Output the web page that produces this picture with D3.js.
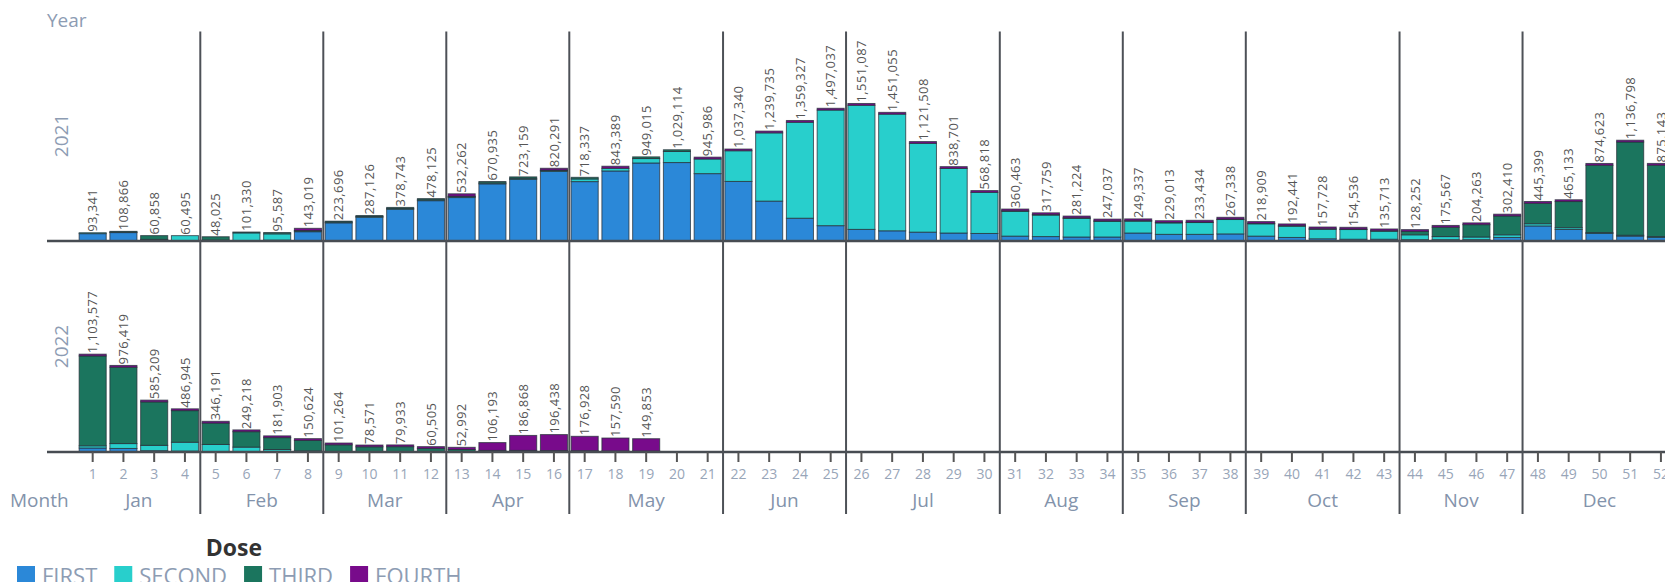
<!DOCTYPE html>
<meta charset="utf-8">
<script src="https://d3js.org/d3.v7.min.js"></script>
<style>
  body { margin: 0; background: #fff; }
  text { font-family: "Open Sans", sans-serif; }
</style>
<body>
<div id="chart"></div>
<script>

// weeks and months
var weeks = d3.range(1, 53)
var monthNames = ["Jan", "Feb", "Mar", "Apr", "May", "Jun", "Jul", "Aug", "Sep", "Oct", "Nov", "Dec"]
var monthLastWeek = [4, 8, 12, 16, 21, 25, 30, 34, 38, 43, 47, 52]
var years = ["2021", "2022"]
var doseKeys = ["FIRST", "SECOND", "THIRD", "FOURTH"]
var doseColors = ["#2b88d8", "#28cfcc", "#1b755e", "#780b8b"]

// 2021, weeks 1-52
var first2021 = [83000, 95000, 10000, 5000, 5000, 5000, 10000, 105000, 205000, 268000, 358000, 455000, 490000,
  645000, 695000, 785000, 670000, 790000, 880000, 885000, 760000, 672000, 450000, 257000, 173000, 131000,
  115000, 100000, 90000, 85000, 55000, 50000, 45000, 45000, 90000, 75000, 75000, 80000, 55000, 40000,
  25000, 20000, 20000, 15000, 15000, 15000, 40000, 170000, 130000, 85000, 55000, 40000]
var second2021 = [10341, 6000, 8000, 55495, 5000, 86330, 70587, 8000, 8000, 8000, 8000, 10000, 10000,
  10000, 12000, 10000, 30000, 30000, 50000, 125000, 165000, 346000, 769735, 1082327, 1304037, 1400087,
  1316055, 1001508, 728701, 463818, 280463, 242759, 211224, 177037, 134337, 129013, 133434, 162338, 138909, 127441,
  107728, 109536, 90713, 55000, 35000, 30000, 30000, 25000, 20000, 10000, 10000, 10000]
var third2021 = [0, 7866, 42858, 0, 38025, 10000, 15000, 5000, 10696, 11126, 12743, 13125, 5000,
  15935, 16159, 5000, 18337, 0, 19015, 19114, 0, 0, 0, 0, 0, 0,
  0, 0, 0, 0, 5000, 5000, 5000, 5000, 5000, 5000, 5000, 5000, 5000, 5000,
  5000, 5000, 5000, 38252, 105567, 139263, 212410, 230399, 295133, 759623, 1051798, 805143]
var fourth2021 = [0, 0, 0, 0, 0, 0, 0, 25019, 0, 0, 0, 0, 27262,
  0, 0, 20291, 0, 23389, 0, 0, 20986, 19340, 20000, 20000, 20000, 20000,
  20000, 20000, 20000, 20000, 20000, 20000, 20000, 20000, 20000, 20000, 20000, 20000, 20000, 20000,
  20000, 20000, 20000, 20000, 20000, 20000, 20000, 20000, 20000, 20000, 20000, 20000]

// 2022, weeks 1-19
var first2022 = [45000, 40000, 15000, 10000, 5000, 5000, 3000, 2000, 1000, 1000, 1000, 1000, 1000, 1000, 1000, 1000, 1000, 1000, 1000]
var second2022 = [25000, 55000, 60000, 100000, 80000, 50000, 25000, 10000, 5000, 3000, 3000, 2000, 2000, 2000, 2000, 2000, 2000, 1000, 1000]
var third2022 = [1013577, 861419, 490209, 356945, 241191, 174218, 133903, 118624, 75264, 54571, 55933, 37505, 25000, 15000, 15000, 13000, 12000, 10000, 9000]
var fourth2022 = [20000, 20000, 20000, 20000, 20000, 20000, 20000, 20000, 20000, 20000, 20000, 20000, 24992, 88193, 168868, 180438, 161928, 145590, 138853]

var width = 1665, height = 582
var panelTop = [30, 241]
var panelH = 211

function rows(f, s, t, o) {
  return f.map(function(d, i) {
    return {week: weeks[i], FIRST: f[i], SECOND: s[i], THIRD: t[i], FOURTH: o[i]}
  })
}
var yearData = [rows(first2021, second2021, third2021, fourth2021), rows(first2022, second2022, third2022, fourth2022)]

var svg = d3.select("#chart").append("svg")
  .attr("width", width).attr("height", height)

var x = d3.scaleBand()
  .domain(weeks)
  .range([77.3, 77.3 + 52 * 30.75])
  .paddingInner(0.12)
  .paddingOuter(0.06)

var y = d3.scaleLinear().domain([0, 2.38e6]).range([0, panelH])

var color = d3.scaleOrdinal().domain(doseKeys).range(doseColors)
var fmt = d3.format(",")
var stack = d3.stack().keys(doseKeys)

function cx(w) { return x(w) + x.bandwidth() / 2 }

yearData.forEach(function(data, i) {
  var base = panelTop[i] + panelH
  var g = svg.append("g")

  var series = stack(data)
  g.selectAll("g.series")
    .data(series)
    .enter().append("g")
      .attr("fill", function(d) { return color(d.key) })
    .selectAll("rect")
    .data(function(d) { return d.filter(function(v) { return v[1] > v[0] }) })
    .enter().append("rect")
      .attr("x", function(d) { return x(d.data.week) })
      .attr("width", x.bandwidth())
      .attr("y", function(d) { return base - y(d[1]) })
      .attr("height", function(d) { return y(d[1]) - y(d[0]) })
      .attr("stroke", "#26303a")
      .attr("stroke-opacity", 0.75)
      .attr("stroke-width", 1)

  // total labels
  g.selectAll("text.total")
    .data(data)
    .enter().append("text")
      .attr("class", "total")
      .attr("transform", function(d) {
        var tot = d.FIRST + d.SECOND + d.THIRD + d.FOURTH
        return "translate(" + cx(d.week) + "," + (base - y(tot) - 1) + ") rotate(-90)"
      })
      .attr("dy", "0.36em")
      .attr("font-size", "13px")
      .attr("letter-spacing", "0.4px")
      .attr("fill", "#555")
      .text(function(d) { return fmt(d.FIRST + d.SECOND + d.THIRD + d.FOURTH) })

  // baseline
  svg.append("line")
    .attr("x1", 47).attr("x2", width)
    .attr("y1", base).attr("y2", base)
    .attr("stroke", "#474c52").attr("stroke-width", 2.5)

  // year label
  svg.append("text")
    .attr("transform", "translate(68," + (panelTop[i] + panelH / 2) + ") rotate(-90)")
    .attr("text-anchor", "middle")
    .attr("font-size", "19px")
    .attr("fill", "#8d9cb3")
    .text(years[i])
})

// week axis under 2022
var axis = svg.append("g")
  .attr("transform", "translate(0," + (panelTop[1] + panelH) + ")")
  .call(d3.axisBottom(x).tickSize(10).tickPadding(7))
axis.select(".domain").remove()
axis.selectAll(".tick line").attr("stroke", "#555").attr("stroke-width", 2)
axis.selectAll(".tick text")
  .attr("font-family", "Open Sans")
  .attr("font-size", "14px")
  .attr("fill", "#98a5b8")

// month separators and labels
var firstWeek = 1
monthNames.forEach(function(m, i) {
  var last = monthLastWeek[i]
  svg.append("text")
    .attr("x", (cx(firstWeek) + cx(last)) / 2)
    .attr("y", 507)
    .attr("text-anchor", "middle")
    .attr("font-size", "19px")
    .attr("fill", "#8393ab")
    .text(m)
  if (i < monthNames.length - 1) {
    var sx = (cx(last) + cx(last + 1)) / 2
    svg.append("line")
      .attr("x1", sx).attr("x2", sx)
      .attr("y1", 31.5).attr("y2", 514)
      .attr("stroke", "#4d5157").attr("stroke-width", 2)
  }
  firstWeek = last + 1
})

svg.append("text")
  .attr("x", 10).attr("y", 507)
  .attr("font-size", "19px")
  .attr("fill", "#8393ab")
  .text("Month")

svg.append("text")
  .attr("x", 47).attr("y", 27)
  .attr("font-size", "19px")
  .attr("fill", "#8d9cb3")
  .text("Year")

// legend
svg.append("text")
  .attr("x", 234).attr("y", 556)
  .attr("text-anchor", "middle")
  .attr("font-size", "23px")
  .attr("font-weight", "bold")
  .attr("fill", "#333")
  .text("Dose")

var lx = 17
doseKeys.forEach(function(k) {
  svg.append("rect")
    .attr("x", lx).attr("y", 566)
    .attr("width", 18).attr("height", 18)
    .attr("fill", color(k))
  var t = svg.append("text")
    .attr("x", lx + 25).attr("y", 584)
    .attr("font-size", "22px")
    .attr("fill", "#8d9cb3")
    .text(k)
  lx = lx + 25 + t.node().getComputedTextLength() + 17
})

</script>
</body>
